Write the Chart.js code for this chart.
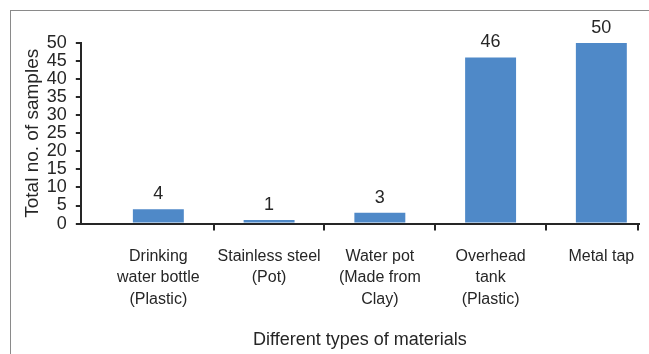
<!DOCTYPE html>
<html>
<head>
<meta charset="utf-8">
<script src="https://cdn.jsdelivr.net/npm/chart.js@4/dist/chart.umd.min.js"></script>
<style>
  html, body { margin: 0; padding: 0; background: #fff; overflow: hidden; }
  #wrap { position: relative; width: 649px; height: 354px; }
  #frame { position: absolute; left: 10px; top: 10px; width: 700px; height: 400px;
           border-left: 1px solid #8a8a8a; border-top: 1px solid #8a8a8a; }
  canvas { position: absolute; left: 0; top: 0; }
</style>
</head>
<body>
<div id="wrap">
  <div id="frame"></div>
  <canvas id="c" width="649" height="354"></canvas>
</div>
<script>
// Material categories (multi-line labels) and sample counts
const categories = [
  ["Drinking", "water bottle", "(Plastic)"],
  ["Stainless steel", "(Pot)"],
  ["Water pot", "(Made from", "Clay)"],
  ["Overhead", "tank", "(Plastic)"],
  ["Metal tap"]
];
const sampleCounts = [4, 1, 3, 46, 50];
const yTicks = [0, 5, 10, 15, 20, 25, 30, 35, 40, 45, 50];

const TEXT = '#262626';
const AXIS = '#262626';
const BAR = '#4f89c8';
const FONT = "'Liberation Sans', Arial, sans-serif";

// Category boundary tick marks and value labels above the bars
const decorations = {
  id: 'decorations',
  afterDraw(chart) {
    const { ctx } = chart;
    const xs = chart.scales.x;
    ctx.save();
    ctx.strokeStyle = AXIS;
    ctx.lineWidth = 2;
    const marks = [];
    for (let i = 0; i < categories.length - 1; i++) marks.push(xs.getPixelForValue(i + 0.5));
    marks.push(xs.right - 1);
    ctx.beginPath();
    marks.forEach(px => {
      ctx.moveTo(Math.round(px), xs.top);
      ctx.lineTo(Math.round(px), xs.top + 7);
    });
    ctx.stroke();

    const meta = chart.getDatasetMeta(0);
    ctx.fillStyle = TEXT;
    ctx.font = "18px " + FONT;
    ctx.textAlign = 'center';
    ctx.textBaseline = 'middle';
    meta.data.forEach((bar, i) => {
      ctx.fillText(String(sampleCounts[i]), bar.x, bar.y - 15);
    });
    ctx.restore();
  }
};

new Chart(document.getElementById('c'), {
  type: 'bar',
  data: {
    datasets: [{
      data: sampleCounts.map((v, i) => ({ x: i, y: v })),
      backgroundColor: BAR,
      borderWidth: 0,
      barPercentage: 0.575,
      categoryPercentage: 0.8
    }]
  },
  options: {
    responsive: false,
    animation: false,
    events: [],
    layout: { padding: { left: 10, right: 10, top: 43, bottom: 2 } },
    plugins: { legend: { display: false }, tooltip: { enabled: false } },
    scales: {
      x: {
        type: 'linear',
        offset: false,
        bounds: 'data',
        min: -0.7,
        max: 4.34,
        afterBuildTicks(scale) {
          scale.ticks = categories.map((_, i) => ({ value: i }));
        },
        // tick marks stay hidden; their length only spaces the labels off the axis
        grid: { display: false, drawTicks: true, tickLength: 22, offset: false },
        border: { display: true, color: AXIS, width: 2 },
        ticks: {
          autoSkip: false,
          maxRotation: 0,
          minRotation: 0,
          padding: 0,
          color: TEXT,
          font: { family: FONT, size: 16, lineHeight: 1.34 },
          callback: (v) => categories[v]
        },
        title: {
          display: true,
          text: 'Different types of materials',
          color: TEXT,
          font: { family: FONT, size: 18 },
          padding: { top: 19, bottom: 1.5 }
        }
      },
      y: {
        min: 0,
        max: 50,
        afterBuildTicks(scale) {
          scale.ticks = yTicks.map(v => ({ value: v }));
        },
        grid: {
          drawOnChartArea: false,
          drawTicks: true,
          tickLength: 5,
          color: AXIS,
          lineWidth: 2
        },
        border: { display: true, color: AXIS, width: 2 },
        ticks: {
          autoSkip: false,
          padding: 9,
          color: TEXT,
          font: { family: FONT, size: 18 }
        },
        title: {
          display: true,
          text: 'Total no. of samples',
          color: TEXT,
          font: { family: FONT, size: 19 },
          padding: { top: 11, bottom: -6 }
        }
      }
    }
  },
  plugins: [decorations]
});
</script>
</body>
</html>
